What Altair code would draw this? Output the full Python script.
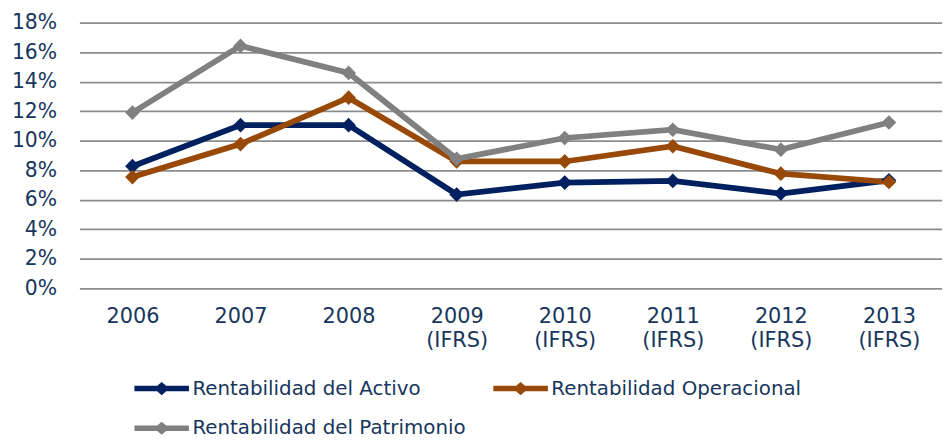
import altair as alt
import pandas as pd

years = ["2006", "2007", "2008", "2009|(IFRS)", "2010|(IFRS)", "2011|(IFRS)", "2012|(IFRS)", "2013|(IFRS)"]
series_names = ["Rentabilidad del Activo", "Rentabilidad Operacional", "Rentabilidad del Patrimonio"]
activo = [8.28, 11.06, 11.06, 6.36, 7.17, 7.28, 6.43, 7.32]
operacional = [7.54, 9.78, 12.92, 8.6, 8.6, 9.63, 7.77, 7.21]
patrimonio = [11.91, 16.43, 14.6, 8.78, 10.19, 10.75, 9.4, 11.24]
colors = ["#002060", "#984807", "#808080"]

rows = []
for name, vals in zip(series_names, [activo, operacional, patrimonio]):
    for i, (y, v) in enumerate(zip(years, vals)):
        rows.append({"year": y, "serie": name, "value": v / 100, "order": i})
df = pd.DataFrame(rows)

text_color = "#17365D"
font = "DejaVu Sans"

legend_path = "M-2.75,0L2.75,0M-0.35,0L0,-0.3L0.35,0L0,0.3Z"

chart = alt.Chart(df).mark_line(
    strokeWidth=5.8,
    point=alt.OverlayMarkDef(shape="diamond", size=220, filled=True, opacity=1),
).encode(
    x=alt.X("year:N", sort=years,
            scale=alt.Scale(type="point", padding=0.491),
            axis=alt.Axis(title=None, domain=False, ticks=False, grid=False,
                          labelExpr="split(datum.label, '|')",
                          labelFontSize=21, labelFont=font, labelColor=text_color,
                          labelPadding=17, labelLineHeight=25, labelAngle=0,
                          labelBaseline="top")),
    y=alt.Y("value:Q",
            scale=alt.Scale(domain=[0, 0.18], nice=False, zero=True),
            axis=alt.Axis(title=None, domain=False, ticks=False, format=".0%",
                          values=[0, 0.02, 0.04, 0.06, 0.08, 0.10, 0.12, 0.14, 0.16, 0.18],
                          labelFontSize=20.5, labelFont=font, labelColor=text_color,
                          labelPadding=23, gridColor="#8C8C8C", gridWidth=1.8)),
    color=alt.Color("serie:N", sort=series_names,
                    scale=alt.Scale(domain=series_names, range=colors),
                    legend=alt.Legend(title=None, orient="none", legendX=70, legendY=356,
                                      columns=2, direction="horizontal",
                                      symbolType=legend_path, symbolSize=400,
                                      symbolStrokeWidth=5.5, labelOffset=18,
                                      labelFontSize=20, labelFont=font, labelColor=text_color,
                                      labelLimit=500, columnPadding=16, rowPadding=12,
                                      padding=0)),
    order=alt.Order("order:Q"),
).properties(
    width=870,
    height=268,
    background="white",
    autosize=alt.AutoSizeParams(type="none"),
    padding={"left": 72, "top": 13, "right": 0, "bottom": 147},
).configure_view(stroke=None)

chart.save("out.html", embed_options={"renderer": "svg", "actions": False})
